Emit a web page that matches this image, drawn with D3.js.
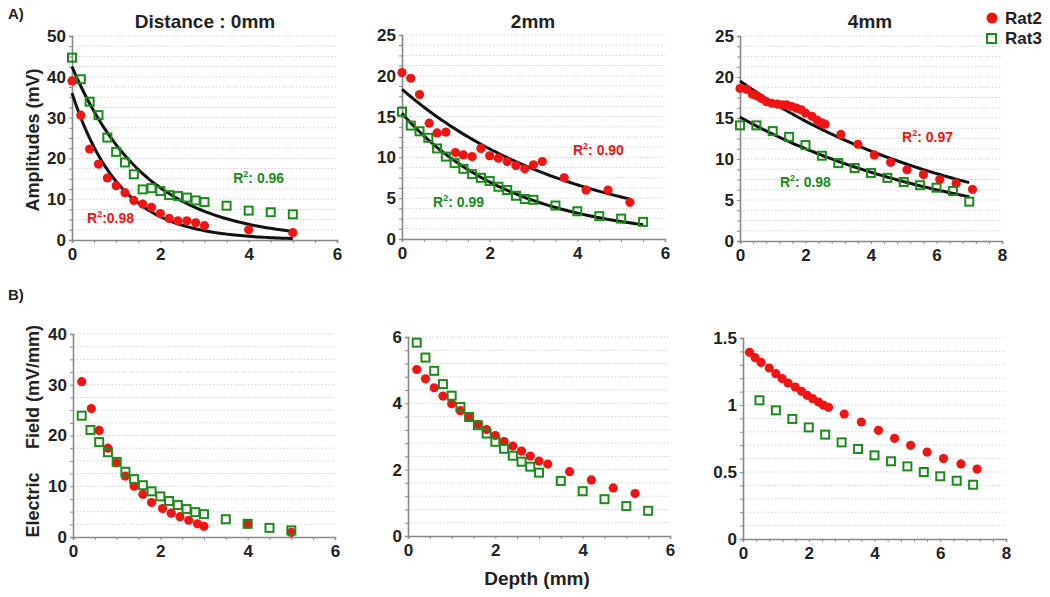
<!DOCTYPE html>
<html><head><meta charset="utf-8">
<script src="https://cdn.jsdelivr.net/npm/d3@7"></script>
<style>
body{margin:0;background:#fff}
text{font-family:"Liberation Sans",Arial,sans-serif;font-weight:bold;fill:#222}
</style>
</head><body><svg id="c" width="1050" height="597"></svg>
<script>
// ---------------- DATA ----------------
const seriesNames = ["Rat2", "Rat3"];
const panelTitles = ["Distance : 0mm", "2mm", "4mm"];

// A) Amplitudes (mV) vs depth (mm)
const ampRat2_0mm = [[0,39.0],[0.2,30.6],[0.4,22.3],[0.6,18.6],[0.8,15.2],[1.0,13.3],[1.2,11.6],[1.4,9.7],[1.6,8.8],[1.8,8.0],[2.0,6.5],[2.2,5.3],[2.4,4.7],[2.6,4.7],[2.8,4.2],[3.0,3.5],[4.0,2.5],[5.0,1.8]];
const ampRat3_0mm = [[0,44.7],[0.2,39.4],[0.4,33.9],[0.6,30.6],[0.8,25.1],[1.0,21.6],[1.2,19.0],[1.4,16.1],[1.6,12.4],[1.8,12.7],[2.0,12.0],[2.2,11.0],[2.4,10.8],[2.6,10.4],[2.8,9.7],[3.0,9.3],[3.5,8.4],[4.0,7.2],[4.5,6.8],[5.0,6.3]];
const ampRat2_2mm = [[0,20.4],[0.2,19.7],[0.4,17.7],[0.62,14.2],[0.8,13.0],[1.0,13.1],[1.22,10.6],[1.4,10.3],[1.6,10.1],[1.8,11.1],[2.0,10.2],[2.2,9.9],[2.4,9.5],[2.6,9.0],[2.8,8.6],[3.0,9.1],[3.2,9.5],[3.7,7.5],[4.2,6.0],[4.7,6.0],[5.2,4.5]];
const ampRat3_2mm = [[0,15.6],[0.2,13.9],[0.4,13.2],[0.6,12.4],[0.8,11.1],[1.0,10.1],[1.2,9.3],[1.4,8.6],[1.6,7.95],[1.8,7.5],[2.0,7.1],[2.2,6.4],[2.4,6.0],[2.6,5.3],[2.8,4.9],[3.0,4.8],[3.5,4.1],[4.0,3.4],[4.5,2.8],[5.0,2.5],[5.5,2.1]];
const ampRat2_4mm = [[0,18.6],[0.2,18.5],[0.38,17.9],[0.5,17.7],[0.64,17.4],[0.8,17.0],[0.97,16.8],[1.14,16.7],[1.3,16.6],[1.43,16.6],[1.58,16.4],[1.73,16.2],[1.87,16.0],[2.0,15.6],[2.2,15.2],[2.36,14.7],[2.5,14.4],[2.6,14.25],[3.08,13.0],[3.6,11.8],[4.1,10.5],[4.6,9.6],[5.1,8.7],[5.6,8.1],[6.1,7.5],[6.6,7.0],[7.1,6.3]];
const ampRat3_4mm = [[0,14.1],[0.5,14.1],[1.0,13.4],[1.5,12.7],[2.0,11.7],[2.5,10.4],[3.0,9.5],[3.5,8.9],[4.0,8.3],[4.5,7.7],[5.0,7.2],[5.5,6.8],[6.0,6.5],[6.5,6.1],[7.0,4.8]];

// exponential fits  [amplitude, decay rate, last depth]
const fitRat2_0mm = [36.0, 0.92, 5.0];
const fitRat3_0mm = [42.5, 0.60, 5.0];
const fitRat2_2mm = [18.35, 0.254, 5.2];
const fitRat3_2mm = [15.4, 0.395, 5.5];
const fitRat2_4mm = [19.5, 0.144, 7.0];
const fitRat3_4mm = [15.1, 0.147, 7.0];
const r2Rat2 = ["0.98", "0.90", "0.97"];
const r2Rat3 = ["0.96", "0.99", "0.98"];

// B) Electric field (mV/mm) vs depth (mm)
const fieldRat2_0mm = [[0.2,30.6],[0.42,25.3],[0.6,21.0],[0.8,17.5],[1.0,14.6],[1.2,12.0],[1.4,10.0],[1.6,8.4],[1.8,6.8],[2.05,5.6],[2.25,4.7],[2.45,4.0],[2.65,3.3],[2.85,2.6],[3.0,2.1],[4.0,2.6],[5.0,0.9]];
const fieldRat3_0mm = [[0.2,23.9],[0.4,21.1],[0.6,18.7],[0.8,16.7],[1.0,14.8],[1.2,12.85],[1.4,11.4],[1.6,10.2],[1.8,9.0],[2.0,8.0],[2.2,7.1],[2.4,6.3],[2.6,5.5],[2.8,4.9],[3.0,4.5],[3.5,3.5],[4.0,2.6],[4.5,1.8],[5.0,1.3]];
const fieldRat2_2mm = [[0.2,5.02],[0.4,4.74],[0.6,4.47],[0.8,4.22],[1.0,3.99],[1.2,3.78],[1.4,3.57],[1.6,3.37],[1.8,3.21],[2.0,3.03],[2.2,2.85],[2.4,2.71],[2.6,2.56],[2.8,2.41],[3.0,2.26],[3.2,2.17],[3.7,1.94],[4.2,1.69],[4.7,1.45],[5.2,1.28]];
const fieldRat3_2mm = [[0.2,5.83],[0.4,5.38],[0.6,4.98],[0.8,4.58],[1.0,4.23],[1.2,3.89],[1.4,3.59],[1.6,3.34],[1.8,3.09],[2.0,2.84],[2.2,2.63],[2.4,2.42],[2.6,2.24],[2.8,2.09],[3.0,1.91],[3.5,1.66],[4.0,1.35],[4.5,1.11],[5.0,0.90],[5.5,0.76]];
const fieldRat2_4mm = [[0.2,1.393],[0.37,1.353],[0.55,1.318],[0.8,1.276],[1.0,1.234],[1.19,1.197],[1.37,1.164],[1.59,1.134],[1.78,1.102],[1.95,1.072],[2.12,1.047],[2.3,1.022],[2.45,0.998],[2.6,0.983],[3.08,0.933],[3.6,0.873],[4.12,0.811],[4.61,0.751],[5.1,0.699],[5.6,0.649],[6.1,0.600],[6.63,0.560],[7.12,0.522]];
const fieldRat3_4mm = [[0.5,1.035],[1.0,0.960],[1.5,0.896],[2.0,0.833],[2.5,0.779],[3.0,0.721],[3.5,0.672],[4.0,0.624],[4.5,0.580],[5.0,0.542],[5.5,0.500],[6.0,0.468],[6.5,0.435],[7.0,0.405]];

// tick labels
const xTicks6 = [0, 2, 4, 6];
const xTicks8 = [0, 2, 4, 6, 8];
const yTicksA0 = [0, 10, 20, 30, 40, 50];
const yTicksA2 = [0, 5, 10, 15, 20, 25];
const yTicksA4 = [0, 5, 10, 15, 20, 25];
const yTicksB0 = [0, 10, 20, 30, 40];
const yTicksB2 = [0, 2, 4, 6];
const yTicksB4 = ["0", "0.5", "1", "1.5"];

// ---------------- DRAW ----------------
const RED = "#f01414", GREEN = "#1d8a1d";
const svg = d3.select("#c");

const panels = [
  {box:[72,337,36,240], xMax:6, xTicks:xTicks6, xMinor:0.5, yMax:50, yTicks:yTicksA0, yMinor:2.5,
   r2:ampRat2_0mm, r3:ampRat3_0mm, f2:fitRat2_0mm, f3:fitRat3_0mm, t2:r2Rat2[0], t3:r2Rat3[0],
   l2:[0.34,4.2], l3:[3.65,14.0], sep2:""},
  {box:[402,665,35,239], xMax:6, xTicks:xTicks6, xMinor:0.5, yMax:25, yTicks:yTicksA2, yMinor:1.25,
   r2:ampRat2_2mm, r3:ampRat3_2mm, f2:fitRat2_2mm, f3:fitRat3_2mm, t2:r2Rat2[1], t3:r2Rat3[1],
   l2:[3.9,10.3], l3:[0.71,3.9], sep2:" "},
  {box:[740,1002,36,241], xMax:8, xTicks:xTicks8, xMinor:0.4, yMax:25, yTicks:yTicksA4, yMinor:1.25,
   r2:ampRat2_4mm, r3:ampRat3_4mm, f2:fitRat2_4mm, f3:fitRat3_4mm, t2:r2Rat2[2], t3:r2Rat3[2],
   l2:[4.95,12.1], l3:[1.22,6.6], sep2:" "},
  {box:[73,335,334,537], xMax:6, xTicks:xTicks6, xMinor:0.5, yMax:40, yTicks:yTicksB0, yMinor:2.5,
   r2:fieldRat2_0mm, r3:fieldRat3_0mm},
  {box:[408,670,337,536], xMax:6, xTicks:xTicks6, xMinor:0.5, yMax:6, yTicks:yTicksB2, yMinor:0.4,
   r2:fieldRat2_2mm, r3:fieldRat3_2mm},
  {box:[743,1006,338,539], xMax:8, xTicks:xTicks8, xMinor:0.4, yMax:1.5, yTicks:yTicksB4.map(Number), yMinor:0.1,
   r2:fieldRat2_4mm, r3:fieldRat3_4mm}
];

panels.forEach(p => {
  const [x0,x1,yT,yB] = p.box;
  const x = d3.scaleLinear().domain([0,p.xMax]).range([x0,x1]);
  const y = d3.scaleLinear().domain([0,p.yMax]).range([yB,yT]);
  const g = svg.append("g");

  // dotted grid
  const gridVals = d3.range(p.yMinor, p.yMax + 1e-9, p.yMinor);
  g.selectAll(".grid").data(gridVals).enter().append("line")
    .attr("x1", x0).attr("x2", x1).attr("y1", d=>y(d)).attr("y2", d=>y(d))
    .attr("stroke", "#cfcfcf").attr("stroke-width", 1).attr("stroke-dasharray", "1.5,2");

  // minor ticks
  const yMinorAxis = d3.axisLeft(y).tickValues(d3.range(0, p.yMax+1e-9, p.yMinor)).tickSize(3).tickFormat("");
  const xMinorAxis = d3.axisBottom(x).tickValues(d3.range(0, p.xMax+1e-9, p.xMinor)).tickSize(3).tickFormat("");
  const ym = g.append("g").attr("transform", `translate(${x0},0)`).call(yMinorAxis);
  const xm = g.append("g").attr("transform", `translate(0,${yB})`).call(xMinorAxis);
  [ym, xm].forEach(a => { a.select(".domain").attr("stroke", "#888").attr("stroke-width", 1.6);
    a.selectAll(".tick line").attr("stroke", "#888"); });

  // labelled axes
  const yAx = d3.axisLeft(y).tickValues(p.yTicks).tickSize(0).tickPadding(6).tickFormat(d => String(d));
  const xAx = d3.axisBottom(x).tickValues(p.xTicks).tickSize(0).tickPadding(8).tickFormat(d => String(d));
  const ya = g.append("g").attr("transform", `translate(${x0},0)`).call(yAx);
  const xa = g.append("g").attr("transform", `translate(0,${yB})`).call(xAx);
  [ya, xa].forEach(a => { a.select(".domain").remove();
    a.selectAll("text").attr("font-size", 17).attr("fill", "#222")
      .style("font-family", '"Liberation Sans",Arial,sans-serif').style("font-weight", "bold"); });

  // fit curves
  const line = d3.line().x(d=>x(d[0])).y(d=>y(d[1]));
  [p.f2, p.f3].forEach(f => {
    if (!f) return;
    const pts = d3.range(0, f[2] + 1e-9, f[2]/80).map(t => [t, f[0]*Math.exp(-f[1]*t)]);
    g.append("path").attr("d", line(pts)).attr("fill", "none").attr("stroke", "#111").attr("stroke-width", 3);
  });

  // Rat2 points: red filled circles
  g.selectAll(".r2").data(p.r2).enter().append("circle")
    .attr("cx", d=>x(d[0])).attr("cy", d=>y(d[1])).attr("r", 4.6).attr("fill", RED);
  // Rat3 points: green open squares
  const s = 8;
  g.selectAll(".r3").data(p.r3).enter().append("rect")
    .attr("x", d=>x(d[0])-s/2).attr("y", d=>y(d[1])-s/2).attr("width", s).attr("height", s)
    .attr("fill", "none").attr("stroke", GREEN).attr("stroke-width", 2);

  // R² annotations
  const addR2 = (pos, val, color, sep) => {
    const t = g.append("text").attr("x", x(pos[0])).attr("y", y(pos[1])).attr("font-size", 14).style("fill", color);
    t.append("tspan").text("R");
    t.append("tspan").attr("font-size", 9).attr("dy", -6).text("2");
    t.append("tspan").attr("dy", 6).text(":" + sep + val);
  };
  if (p.t2) addR2(p.l2, p.t2, RED, p.sep2);
  if (p.t3) addR2(p.l3, p.t3, GREEN, " ");
});

// titles & labels
svg.append("text").attr("x", 8).attr("y", 19).attr("font-size", 15).text("A)");
svg.append("text").attr("x", 8).attr("y", 300).attr("font-size", 15).text("B)");
[[205, panelTitles[0]], [533, panelTitles[1]], [870, panelTitles[2]]].forEach(([cx, t]) =>
  svg.append("text").attr("x", cx).attr("y", 28).attr("text-anchor", "middle").attr("font-size", 19).text(t));

svg.append("text").attr("transform", "translate(39,140) rotate(-90)").attr("text-anchor", "middle")
  .attr("font-size", 18).text("Amplitudes (mV)");
svg.append("text").attr("transform", "translate(39,387) rotate(-90)").attr("text-anchor", "middle")
  .attr("font-size", 18).text("Field (mV/mm)");
svg.append("text").attr("transform", "translate(39,505) rotate(-90)").attr("text-anchor", "middle")
  .attr("font-size", 18).text("Electric");
svg.append("text").attr("x", 537).attr("y", 585).attr("text-anchor", "middle").attr("font-size", 19).text("Depth (mm)");

// legend
svg.append("circle").attr("cx", 992).attr("cy", 18).attr("r", 5.5).attr("fill", RED);
svg.append("text").attr("x", 1005).attr("y", 24).attr("font-size", 17).text(seriesNames[0]);
svg.append("rect").attr("x", 987).attr("y", 34).attr("width", 9).attr("height", 9)
  .attr("fill", "none").attr("stroke", GREEN).attr("stroke-width", 2);
svg.append("text").attr("x", 1005).attr("y", 44).attr("font-size", 17).text(seriesNames[1]);
</script>
</body></html>
